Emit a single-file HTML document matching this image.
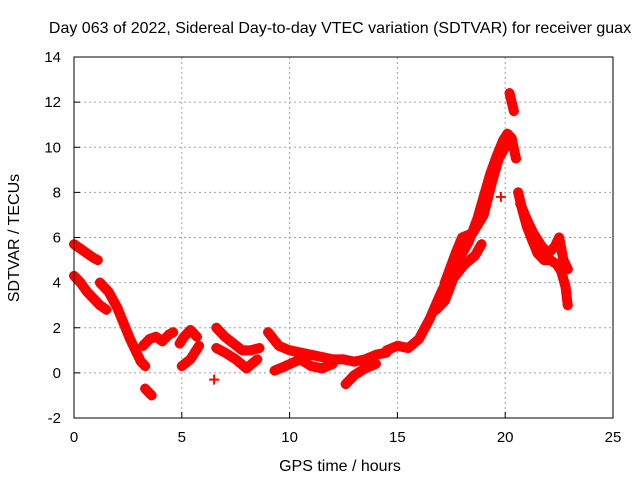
<!DOCTYPE html>
<html><head><meta charset="utf-8"><style>
body{margin:0;background:#fff}
svg{display:block;font-family:"Liberation Sans",sans-serif}
</style></head><body>
<svg id="chart" width="640" height="480">
<rect width="640" height="480" fill="#fff"/>
<text x="340" y="33" text-anchor="middle" font-size="16">Day 063 of 2022, Sidereal Day-to-day VTEC variation (SDTVAR) for receiver guax</text>
<g id="grid"></g><g id="ticks"></g><g id="marks"></g>
<rect x="74" y="57" width="539" height="361" fill="none" stroke="#000" stroke-width="1"/>
<text x="340" y="471" text-anchor="middle" font-size="16">GPS time / hours</text>
<text x="19" y="238" text-anchor="middle" font-size="16" transform="rotate(-90 19 238)">SDTVAR / TECUs</text>
</svg>
<script>
const xTicks=[0,5,10,15,20,25];
const yTicks=[-2,0,2,4,6,8,10,12,14];
const track1=[[0,5.7],[0.3,5.5],[0.6,5.3],[0.9,5.1],[1.1,5.0]];
const track2=[[0,4.3],[0.3,4.0],[0.6,3.6],[0.9,3.3],[1.2,3.0],[1.5,2.8]];
const track3=[[1.2,4.0],[1.6,3.6],[2.0,2.9],[2.3,2.2],[2.6,1.5],[2.9,0.9],[3.1,0.5],[3.3,0.3]];
const track4=[[3.2,1.2],[3.5,1.5],[3.8,1.6],[4.1,1.4],[4.4,1.7],[4.6,1.8]];
const track5=[[3.3,-0.7],[3.6,-1.0]];
const track6=[[4.9,1.3],[5.1,1.6],[5.4,1.9],[5.7,1.6]];
const track7=[[5.0,0.3],[5.4,0.6],[5.6,0.9],[5.8,1.2]];
const track8=[[6.6,2.0],[7.0,1.6],[7.4,1.3],[7.8,1.0],[8.2,1.0],[8.6,1.1]];
const track9=[[6.6,1.1],[7.0,0.9],[7.5,0.6],[8.0,0.2],[8.5,0.6]];
const track10=[[6.5,-0.3]];
const track11=[[9.0,1.8],[9.5,1.2],[10,1.0],[10.5,0.9],[11,0.8],[11.5,0.7],[12,0.6],[12.5,0.6],[13,0.5],[13.5,0.6],[14,0.8],[14.5,0.9]];
const track12=[[9.3,0.1],[9.8,0.3],[10.5,0.6],[11,0.3],[11.5,0.2],[12,0.4]];
const track13=[[12.6,-0.5],[13,-0.1],[13.5,0.2],[14,0.4]];
const track14=[[14.5,1.0],[15,1.2],[15.5,1.1],[16,1.5],[16.5,2.4],[17,3.5],[17.5,4.5],[18,5.3],[18.3,5.8],[18.7,6.8],[19,7.8],[19.3,8.8],[19.6,9.6],[19.9,10.3],[20.1,10.6],[20.3,10.4],[20.5,9.5]];
const track15=[[17.2,4.0],[17.7,5.3],[18.0,6.0],[18.5,6.2],[19,7.0],[19.4,8.5],[19.7,9.5],[20.0,10.0]];
const track16=[[16.8,2.8],[17.2,3.2],[17.6,4.2],[18.1,4.8],[18.6,5.2],[18.9,5.7]];
const track17=[[20.2,12.4],[20.3,12.0],[20.4,11.6]];
const track18=[[19.8,7.8]];
const track19=[[20.6,8.0],[20.8,7.2],[21.0,6.5],[21.2,6.0],[21.5,5.3],[21.8,5.0],[22.1,5.0],[22.4,4.8],[22.6,4.5],[22.8,3.8],[22.9,3.0]];
const track20=[[20.7,7.5],[21.0,6.8],[21.3,6.2],[21.7,5.6],[22.0,5.3],[22.3,5.6],[22.5,6.0],[22.7,5.0],[22.9,4.6]];
const tracks=[track1,track2,track3,track4,track5,track6,track7,track8,track9,track10,track11,track12,track13,track14,track15,track16,track17,track18,track19,track20];

const NS="http://www.w3.org/2000/svg";
const X=h=>74+(h-0)*(539/25);
const Y=v=>418-(v+2)*(361/16);
const grid=document.getElementById('grid'),ticks=document.getElementById('ticks'),marks=document.getElementById('marks');
function mk(tag,attrs,parent){const e=document.createElementNS(NS,tag);for(const k in attrs)e.setAttribute(k,attrs[k]);parent.appendChild(e);return e;}
xTicks.forEach(t=>{
  const x=X(t);
  if(t>0&&t<25){const g=mk('line',{x1:x,x2:x,y1:57,y2:418,stroke:'#a0a0a0','stroke-dasharray':'2,3'},grid);
  
  }
  mk('line',{x1:x,x2:x,y1:418,y2:412,stroke:'#000'},ticks);
  const l=mk('text',{x:x,y:442,'text-anchor':'middle','font-size':15},ticks);l.textContent=t;
  
  
});
yTicks.forEach(t=>{
  const y=Y(t);
  if(t>-2&&t<14){const g=mk('line',{x1:74,x2:613,y1:y,y2:y,stroke:'#a0a0a0','stroke-dasharray':'2,3'},grid);
  
  }
  mk('line',{x1:74,x2:80,y1:y,y2:y,stroke:'#000'},ticks);
  const l=mk('text',{x:61,y:y+5,'text-anchor':'end','font-size':15},ticks);l.textContent=t;
  
  
});
tracks.forEach(tr=>{
  if(tr.length>1){
    const p=mk('polyline',{points:tr.map(d=>X(d[0])+','+Y(d[1])).join(' '),fill:'none',stroke:'#f00','stroke-width':10,'stroke-linejoin':'round','stroke-linecap':'round'},marks);
    
    
  }
  tr.forEach(d=>{
    const x=X(d[0]),y=Y(d[1]);
    const m=mk('path',{d:`M${x-5},${y}H${x+5}M${x},${y-5}V${y+5}`,stroke:'#f00','stroke-width':2},marks);
    
    
  });
});
</script>
</body></html>
